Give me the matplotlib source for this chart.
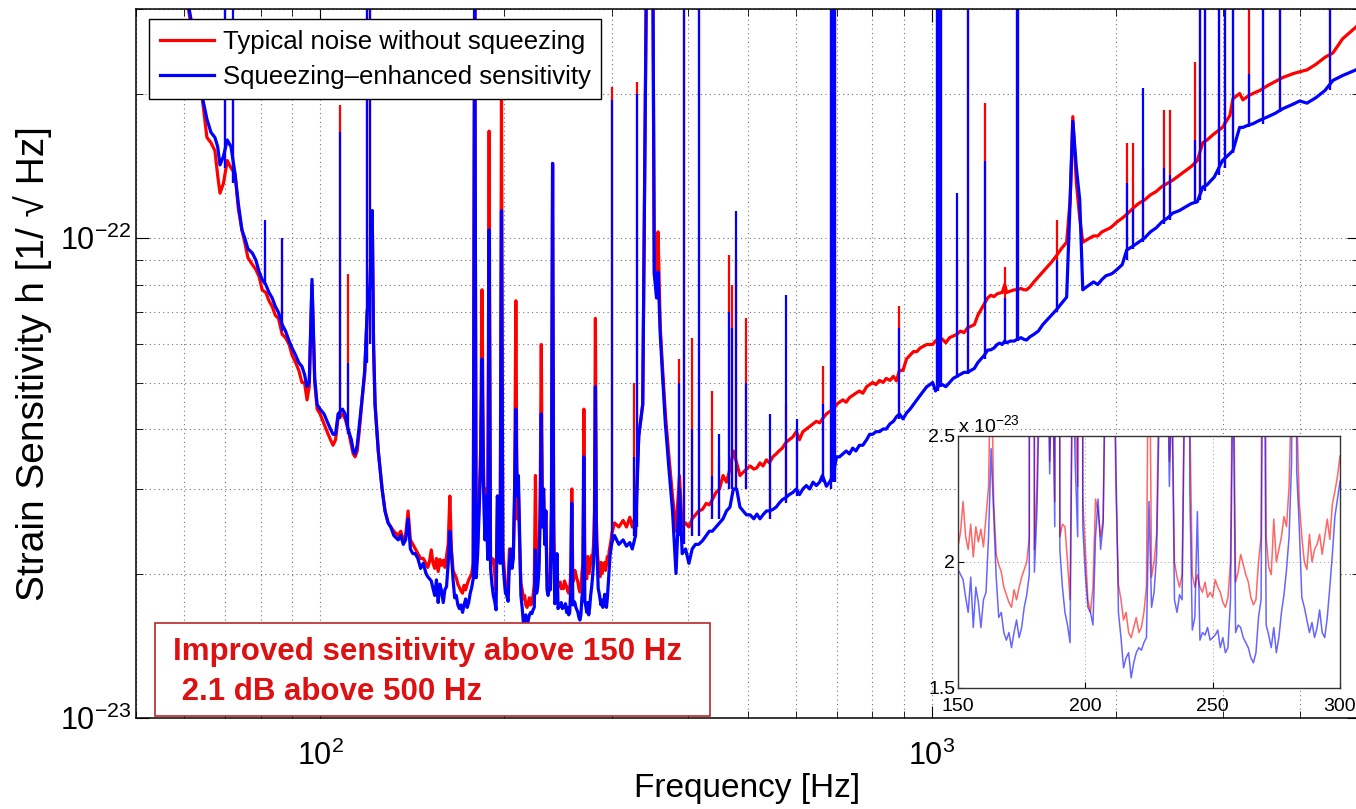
import numpy as np
import matplotlib
matplotlib.use('Agg')
import matplotlib.pyplot as plt
import matplotlib.ticker as ticker
from matplotlib.patches import Rectangle

# all strain values are in units of 1e-23 / sqrt(Hz)

# low band, 58-150 Hz
low_f = [58, 60, 62, 64.1, 65.3, 66.3, 67.3, 68.0, 68.6, 69.5,
         70.5, 71.5, 72.6, 73.5, 74.5, 75.3, 76.2, 77.5, 78.5, 79.5,
         80.4, 81.5, 82.5, 83.5, 84.5, 85.5, 86.7, 87.8, 89.0, 90.0,
         91.2, 92.3, 93.4, 94.3, 95.2, 96.0, 97.0, 98.0, 98.9, 100.0,
         101.5, 103.1, 104.0, 105.0, 106.0, 107.0, 108.8, 109.9, 111.1, 112.5,
         113.3, 114.1, 115.0, 116.0, 117.1, 118.3, 119.4, 120.7, 121.7, 122.3,
         123.0, 124.5, 126.3, 127.7, 129.2, 130.5, 132.0, 134.2, 135.5, 136.8,
         138.0, 139.3, 140.5, 141.8, 143.1, 144.5, 146.0, 147.5, 149.0]
low_red = [40, 34, 26, 19.8, 16.2, 15.8, 15.2, 13.5, 12.4, 13.0,
           14.5, 14.0, 13.6, 11.5, 10.4, 9.8, 9.1, 8.8, 8.6, 8.3,
           7.8, 7.7, 7.4, 7.2, 6.9, 6.8, 6.3, 6.2, 6.0, 5.7,
           5.5, 5.3, 5.0, 5.0, 4.6, 4.9, 8.0, 5.0, 4.4, 4.3,
           4.1, 3.9, 3.8, 3.7, 3.8, 4.2, 4.3, 4.2, 4.0, 3.7,
           3.55, 3.5, 3.6, 4.0, 4.6, 5.2, 7.0, 8.0, 11.4, 6.0,
           4.5, 3.6, 3.0, 2.7, 2.55, 2.5, 2.45, 2.4, 2.45, 2.35,
           2.4, 2.7, 2.35, 2.3, 2.25, 2.2, 2.15, 2.15, 2.1]
low_blue = [40, 34, 27, 19.8, 17.7, 16.6, 16.2, 15.5, 14.2, 14.8,
            16.0, 15.5, 13.6, 11.8, 10.4, 10.0, 9.5, 9.3, 9.0, 8.5,
            8.2, 8.0, 7.7, 7.5, 7.2, 7.0, 6.6, 6.4, 6.1, 5.9,
            5.7, 5.5, 5.4, 5.2, 4.9, 5.0, 8.2, 5.1, 4.5, 4.4,
            4.3, 4.1, 4.0, 3.9, 3.9, 4.3, 4.4, 4.3, 4.0, 3.8,
            3.6, 3.55, 3.7, 4.1, 4.6, 5.3, 7.0, 8.0, 11.4, 6.0,
            4.5, 3.6, 3.0, 2.7, 2.55, 2.5, 2.4, 2.35, 2.4, 2.3,
            2.35, 2.6, 2.25, 2.2, 2.2, 2.15, 2.05, 2.1, 2.0]

# 150-300 Hz, 1 Hz bins (also shown in the inset)
mid_f = list(range(150, 301))
mid_red = [2.06, 2.12, 2.24, 2.10, 2.05, 2.15, 2.02, 2.14, 2.08, 2.13,
           2.06, 2.18, 2.30, 2.90, 2.24, 2.03, 1.99, 1.96, 1.90, 1.87,
           1.84, 1.82, 1.89, 1.85, 1.90, 1.94, 1.97, 2.00, 2.10, 40.0,
           2.05, 2.30, 2.90, 3.60, 7.80, 3.40, 2.40, 3.00, 2.24, 16.7,
           2.10, 2.15, 2.14, 2.00, 1.85, 2.90, 2.60, 2.30, 19.8, 2.24,
           2.05, 1.85, 1.80, 1.90, 2.25, 2.20, 2.10, 2.17, 2.80, 7.40,
           2.60, 3.00, 2.30, 1.91, 1.85, 1.77, 1.80, 1.72, 1.70, 1.74,
           1.78, 1.72, 1.74, 1.80, 1.90, 3.20, 1.94, 2.00, 2.11, 2.80,
           6.00, 2.60, 3.00, 2.40, 2.70, 2.00, 1.94, 1.90, 1.95, 2.80,
           14.3, 2.60, 1.95, 1.90, 1.95, 1.90, 1.88, 1.92, 1.86, 1.88,
           1.86, 1.93, 1.90, 1.88, 1.84, 1.82, 1.86, 2.00, 3.00, 1.92,
           1.96, 2.03, 1.99, 1.95, 1.92, 1.86, 1.83, 1.85, 2.00, 2.10,
           4.40, 2.10, 1.98, 1.95, 2.17, 2.00, 2.05, 2.10, 2.18, 2.14,
           2.30, 2.70, 6.80, 2.60, 2.24, 2.10, 2.00, 1.97, 2.11, 2.00,
           2.05, 2.07, 2.11, 2.03, 2.10, 2.17, 2.09, 2.23, 2.28, 2.34,
           2.42]
mid_blue = [1.97, 1.95, 1.93, 1.86, 1.80, 1.94, 1.74, 1.90, 1.84, 1.74,
            1.85, 1.88, 2.10, 2.45, 2.20, 1.94, 1.78, 1.80, 1.72, 1.69,
            1.72, 1.66, 1.72, 1.77, 1.70, 1.74, 1.82, 1.87, 1.95, 40.0,
            1.96, 2.20, 2.70, 3.30, 5.60, 3.10, 2.35, 2.90, 2.14, 10.4,
            2.05, 1.90, 1.80, 1.75, 1.68, 2.90, 2.40, 2.10, 11.4, 2.14,
            1.95, 1.82, 1.80, 1.75, 2.10, 2.25, 2.05, 2.15, 3.00, 4.40,
            2.90, 3.20, 2.40, 1.80, 1.70, 1.58, 1.62, 1.64, 1.54, 1.60,
            1.64, 1.66, 1.65, 1.68, 1.70, 2.24, 1.82, 1.88, 2.03, 2.60,
            4.30, 2.50, 3.00, 2.30, 2.70, 1.85, 1.80, 1.87, 1.85, 2.70,
            14.3, 2.30, 1.73, 1.78, 2.20, 1.69, 1.72, 1.71, 1.74, 1.69,
            1.70, 1.71, 1.73, 1.66, 1.70, 1.64, 1.66, 1.85, 2.80, 1.72,
            1.75, 1.74, 1.70, 1.68, 1.66, 1.62, 1.60, 1.64, 1.78, 1.85,
            3.50, 1.75, 1.71, 1.66, 1.74, 1.64, 1.70, 1.80, 1.87, 1.97,
            2.10, 2.40, 4.90, 2.36, 2.14, 1.86, 1.82, 1.77, 1.72, 1.76,
            1.70, 1.74, 1.81, 1.72, 1.70, 1.78, 1.90, 2.03, 2.18, 2.25,
            2.32]

# high band, 303-5000 Hz (noise floor)
high_f = [303, 308, 313, 317, 321, 324, 328, 332, 337, 342,
          346, 350, 352, 355, 357, 360, 363, 367, 372, 377,
          382, 387, 391, 396, 401, 406, 411, 416, 422, 428,
          433, 438, 444, 450, 456, 462, 468, 474, 480, 486,
          492, 498, 505, 512, 518, 524, 530, 537, 543, 550,
          557, 563, 570, 578, 585, 593, 601, 608, 616, 624,
          632, 640, 648, 656, 663, 673, 681, 690, 699, 707,
          716, 725, 734, 743, 752, 762, 772, 783, 792, 801,
          811, 822, 833, 843, 855, 866, 876, 886, 898, 910,
          922, 934, 946, 958, 970, 982, 994, 1004, 1015, 1030,
          1042, 1055, 1070, 1085, 1100, 1115, 1130, 1145, 1160, 1175,
          1190, 1205, 1220, 1235, 1250, 1265, 1280, 1292, 1305, 1317,
          1327, 1345, 1365, 1380, 1400, 1416, 1430, 1447, 1470, 1495,
          1520, 1545, 1570, 1602, 1630, 1663, 1685, 1702, 1725, 1747,
          1767, 1790, 1815, 1840, 1870, 1900, 1930, 1960, 1978, 2010,
          2050, 2085, 2130, 2180, 2230, 2280, 2330, 2380, 2430, 2480,
          2540, 2600, 2660, 2720, 2777, 2820, 2900, 2990, 3075, 3110,
          3190, 3230, 3300, 3353, 3443, 3550, 3650, 3754, 3900, 4000,
          4110, 4250, 4400, 4533, 4700, 4942, 5000]
high_red = [2.55, 2.50, 2.58, 2.50, 2.62, 2.50, 2.65, 3.87, 4.5, 40,
            40, 40, 8.4, 8.0, 10.3, 6.5, 5.4, 4.3, 3.5, 2.9,
            2.45, 3.2, 2.5, 2.55, 2.5, 2.6, 2.65, 2.7, 2.72, 2.8,
            2.78, 2.85, 2.95, 3.0, 3.2, 3.1, 3.3, 3.6, 3.4, 3.2,
            3.25, 3.3, 3.35, 3.3, 3.32, 3.4, 3.35, 3.45, 3.4, 3.5,
            3.55, 3.6, 3.65, 3.75, 3.8, 3.85, 3.95, 3.8, 3.95, 4.0,
            4.05, 4.1, 4.15, 4.12, 4.2, 4.3, 4.35, 4.4, 4.5, 4.55,
            4.6, 4.55, 4.65, 4.7, 4.75, 4.8, 4.75, 4.9, 4.95, 5.0,
            4.95, 5.05, 5.0, 5.1, 5.05, 5.15, 5.04, 5.3, 5.3, 5.6,
            5.7, 5.8, 5.8, 5.9, 5.95, 6.0, 6.0, 6.0, 6.1, 6.2,
            6.15, 6.05, 6.2, 6.25, 6.3, 6.4, 6.35, 6.5, 6.55, 6.6,
            6.9, 7.1, 7.3, 7.5, 7.6, 7.55, 7.65, 7.68, 7.7, 8.0,
            7.7, 7.75, 7.8, 7.8, 7.85, 7.8, 7.8, 7.9, 8.1, 8.3,
            8.5, 8.7, 8.9, 9.2, 9.5, 9.8, 12, 17.9, 13, 11,
            9.8, 9.9, 10.0, 10.1, 10.1, 10.3, 10.4, 10.5, 10.6, 10.8,
            11.0, 11.2, 11.5, 11.8, 12.0, 12.3, 12.5, 12.8, 13.0, 13.2,
            13.5, 13.8, 14.1, 14.5, 15.8, 16.0, 16.5, 17.0, 18.0, 19.5,
            20.0, 19.4, 19.8, 20.0, 20.3, 20.8, 21.2, 21.6, 22.0, 22.2,
            22.4, 23.0, 23.8, 24.3, 26, 27.5, 28]
high_blue = [2.40, 2.30, 2.35, 2.28, 2.32, 2.25, 2.40, 3.87, 4.5, 40,
             40, 40, 8.4, 7.5, 8.5, 6.3, 5.2, 4.1, 3.3, 2.7,
             2.00, 3.0, 2.2, 2.25, 2.1, 2.25, 2.3, 2.3, 2.34, 2.4,
             2.45, 2.45, 2.5, 2.55, 2.6, 2.7, 2.75, 3.0, 3.0, 2.75,
             2.7, 2.65, 2.65, 2.6, 2.66, 2.6, 2.65, 2.7, 2.7, 2.72,
             2.75, 2.8, 2.85, 2.88, 2.92, 2.95, 3.0, 2.92, 3.0, 3.05,
             3.0, 3.1, 3.05, 3.1, 3.2, 3.04, 3.1, 3.2, 3.5, 3.5,
             3.55, 3.6, 3.55, 3.65, 3.6, 3.7, 3.7, 3.8, 3.9, 3.9,
             3.95, 3.95, 4.0, 4.0, 4.1, 4.15, 4.24, 4.3, 4.2, 4.32,
             4.4, 4.5, 4.6, 4.7, 4.8, 4.9, 4.95, 5.0, 4.8, 4.95,
             4.95, 4.9, 5.0, 5.1, 5.15, 5.2, 5.25, 5.25, 5.3, 5.35,
             5.5, 5.6, 5.7, 5.84, 5.85, 5.9, 6.0, 6.04, 6.0, 6.1,
             6.05, 6.1, 6.1, 6.15, 6.2, 6.15, 6.13, 6.22, 6.3, 6.4,
             6.6, 6.75, 6.9, 7.1, 7.3, 7.53, 12, 17.5, 14, 12,
             7.8, 7.9, 8.0, 8.1, 8.0, 8.2, 8.35, 8.4, 8.45, 8.6,
             8.8, 9.44, 9.6, 9.8, 10.0, 10.3, 10.5, 10.8, 11.0, 11.27,
             11.4, 11.6, 11.8, 11.9, 12.77, 12.9, 13.4, 14.5, 15.0, 15.2,
             17.0, 17.0, 17.2, 17.3, 17.6, 17.9, 18.2, 18.6, 19.0, 19.3,
             19.1, 19.6, 20.3, 21.3, 21.8, 22.4, 22.6]

# narrow lines outside 150-300 Hz: frequency, foot, red top, blue top
spike_f = [61.5, 69.9, 72.1, 81.3, 86.7, 107.8, 111.1, 119.4, 120.5,
           300.5, 326.5, 330, 386.9, 394.3, 406.3, 417.0, 438.2, 449.8, 467.1, 472.4, 479.5,
           497.7, 543.2, 577, 601.4, 663.2, 686, 690, 694, 886.2, 1019,
           1026, 1031, 1036, 1100, 1145.6, 1222, 1317, 1380, 1386, 1602,
           2084, 2133, 2215, 2400, 2452, 2700, 2750, 2798, 2950, 3016,
           3109, 3300, 3480, 3720, 4480]
spike_base = [30, 14, 13, 8.0, 6.4, 4.2, 3.9, 5.5, 6.0,
              2.3, 2.4, 2.5, 2.4, 2.3, 2.4, 2.4, 2.6, 2.6, 3.0, 3.0, 3.0,
              3.0, 2.6, 2.8, 2.9, 3.1, 3.0, 3.1, 3.1, 4.2, 4.8,
              4.8, 4.9, 4.9, 5.1, 5.2, 5.6, 6.0, 6.1, 6.1, 7.0,
              9.0, 9.5, 9.8, 10.7, 10.9, 11.8, 12.0, 12.5, 13.5, 14.0,
              15.0, 17.0, 17.3, 18.3, 20.3]
spike_red = [40, 40, 22, 9.0, 10.0, 18.9, 8.4, 40, 40,
             20.6, 5.0, 21.1, 5.6, 40, 6.2, 40, 4.8, 3.5, 9.2, 8.0, 9.0,
             6.8, 3.4, 4.5, 4.0, 5.4, 40, 40, 40, 7.2, 40,
             40, 11.4, 40, 9.0, 40, 19.1, 8.7, 40, 40, 10.9,
             15.8, 15.8, 14.0, 18.5, 18.5, 23.3, 40, 40, 40, 40,
             40, 40, 40, 40, 40]
spike_blue = [40, 40, 40, 10.9, 10.0, 16.6, 5.5, 40, 40,
              19.4, 3.5, 20.0, 5.0, 40, 4.0, 40, 3.2, 3.9, 7.0, 6.5, 11.4,
              5.0, 4.3, 7.6, 4.2, 4.5, 40, 40, 40, 6.5, 40,
              40, 40, 40, 12.4, 40, 14.5, 7.5, 40, 40, 9.0,
              13.0, 11.5, 20.5, 14.0, 13.5, 16.0, 40, 40, 40, 40,
              40, 22, 40, 40, 40]

plt.rcParams['font.family'] = ['Liberation Sans', 'DejaVu Sans']
plt.rcParams['mathtext.fontset'] = 'custom'
plt.rcParams['mathtext.rm'] = 'Liberation Sans'
plt.rcParams['mathtext.it'] = 'Liberation Sans:italic'
plt.rcParams['mathtext.bf'] = 'Liberation Sans:bold'

W, H = 1356, 809
fig = plt.figure(figsize=(W / 100, H / 100), dpi=100)
ax = fig.add_axes([136 / W, 1 - 718 / H, 1223 / W, 709 / H])

unit = 1e-23
freq = np.array(low_f + mid_f + high_f, dtype=float)
red = np.array(low_red + mid_red + high_red) * unit
blue = np.array(low_blue + mid_blue + high_blue) * unit
sb = np.array(spike_base) * unit

ax.plot(freq, red, color='#ff0000', lw=2.3, label='Typical noise without squeezing')
ax.vlines(spike_f, sb, np.array(spike_red) * unit, color='#ff0000', lw=1.6)
ax.plot(freq, blue, color='#0000ff', lw=2.3, label='Squeezing\u2013enhanced sensitivity')
ax.vlines(spike_f, sb, np.array(spike_blue) * unit, color='#0000ff', lw=1.6)

ax.set_xscale('log')
ax.set_yscale('log')
ax.set_xlim(50, 5000)
ax.set_ylim(1e-23, 3e-22)
ax.set_xticks([100, 1000])
ax.set_yticks([1e-23, 1e-22])
ax.xaxis.set_minor_formatter(ticker.NullFormatter())
ax.yaxis.set_minor_formatter(ticker.NullFormatter())
ax.tick_params(which='both', direction='in', top=True, right=True)
ax.tick_params(which='major', length=9, labelsize=22)
ax.tick_params(axis='x', which='major', pad=16)
ax.tick_params(axis='y', which='major', pad=3)
ax.tick_params(which='minor', length=5)
ax.grid(True, which='both', linestyle=(0, (1, 3)), color='0.45', lw=0.8)
for s in ax.spines.values():
    s.set_linewidth(1.1)

ax.set_xlabel('Frequency [Hz]', fontsize=24, labelpad=1)
ax.set_ylabel('Strain Sensitivity h [1/ \u221a Hz]', fontsize=28, labelpad=6)

leg = ax.legend(loc='upper left', bbox_to_anchor=(149 / W, 1 - 19 / H),
                bbox_transform=fig.transFigure, borderaxespad=0, fontsize=18.5,
                fancybox=False, edgecolor='black', framealpha=1,
                handlelength=2.1, handletextpad=0.35, labelspacing=0.42, borderpad=0.42)
leg.get_frame().set_linewidth(1.0)

# annotation box
box = Rectangle((155 / W, 1 - 716 / H), 555 / W, 93 / H, transform=fig.transFigure,
                facecolor='white', edgecolor='#b82828', lw=1.2, zorder=5, clip_on=False)
ax.add_patch(box)
ax.text(173 / W, 1 - 652 / H, 'Improved sensitivity above 150 Hz', transform=fig.transFigure,
        color='#dd1111', fontsize=22.5, fontweight='bold', va='center', zorder=6)
ax.text(173 / W, 1 - 692 / H, ' 2.1 dB above 500 Hz', transform=fig.transFigure,
        color='#dd1111', fontsize=22.5, fontweight='bold', va='center', zorder=6)

# inset: 150-300 Hz on linear axes
axi = fig.add_axes([958 / W, 1 - 688 / H, 382 / W, 252 / H])
axi.plot(mid_f, mid_red, color='#ff0000', lw=1.1, alpha=0.6)
axi.plot(mid_f, mid_blue, color='#0000ff', lw=1.1, alpha=0.6)
axi.set_xlim(150, 300)
axi.set_ylim(1.5, 2.5)
axi.set_xticks([150, 200, 250, 300])
axi.set_yticks([1.5, 2, 2.5])
axi.set_yticklabels(['1.5', '2', '2.5'])
axi.tick_params(direction='in', length=4, labelsize=14)
axi.tick_params(axis='x', pad=7)
axi.tick_params(axis='y', pad=2)
axi.grid(True, linestyle=(0, (1, 3)), color='0.6', lw=0.7)
for s in axi.spines.values():
    s.set_linewidth(1.0)
    s.set_color('0.2')
axi.text(0, 1.0, 'x 10$^{-23}$', transform=axi.transAxes, fontsize=14, ha='left', va='bottom')

fig.savefig('out.png', dpi=100)
